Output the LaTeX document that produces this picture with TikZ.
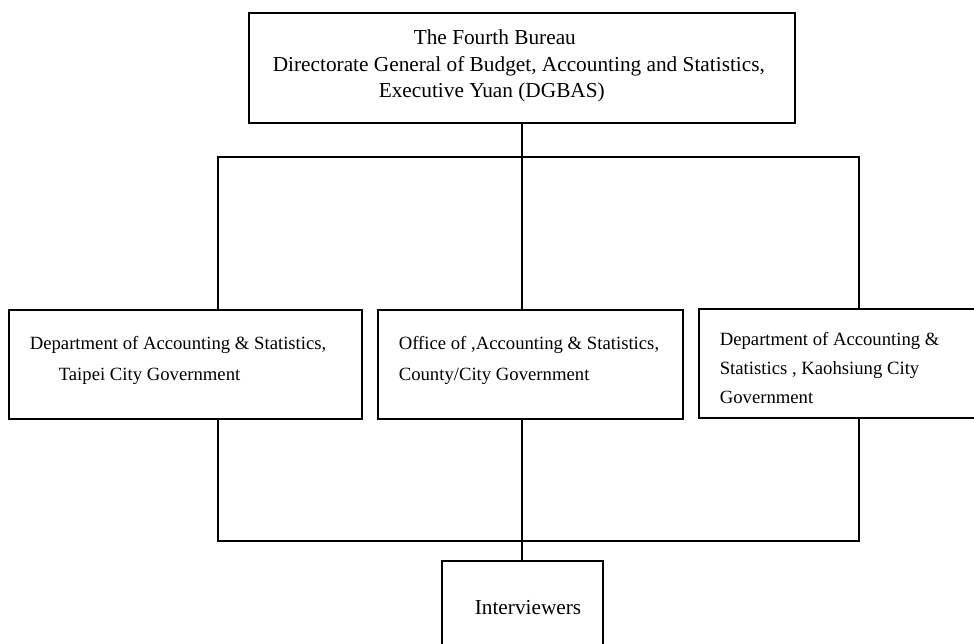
\documentclass[tikz,border=0pt]{standalone}
\usepackage{fontspec}
\setmainfont{Liberation Serif}
\begin{document}
\begin{tikzpicture}[x=1pt,y=-1pt,line width=1.6pt,
  box/.style={draw, rectangle, inner sep=0pt},
  bigtxt/.style={anchor=base west, inner sep=0pt, font=\fontsize{21.3}{24}\selectfont},
  smalltxt/.style={anchor=base west, inner sep=0pt, font=\fontsize{18.7}{22}\selectfont}]
\useasboundingbox (0,0) rectangle (974,644);
\clip (0,0) rectangle (974,644);
% boxes
\node[box, minimum width=546pt, minimum height=110pt] (top) at (522,68) {};
\node[box, minimum width=353pt, minimum height=109pt] (left) at (185.5,364.5) {};
\node[box, minimum width=305pt, minimum height=109pt] (mid) at (530.5,364.5) {};
\node[box, minimum width=291pt, minimum height=109pt] (right) at (844.5,363.5) {};
\node[box, minimum width=161pt, minimum height=99pt] (bottom) at (522.5,610.5) {};
% texts
\node[bigtxt] (t1) at (413,45) {The Fourth Bureau};
\node[bigtxt] (t2) at (272,72) {Directorate General of Budget, Accounting and Statistics,};
\node[bigtxt] (t3) at (378,98) {Executive Yuan (DGBAS)};
\node[smalltxt] (l1) at (29,349) {Department of Accounting \& Statistics,};
\node[smalltxt] (l2) at (58,380) {Taipei City Government};
\node[smalltxt] (m1) at (398,349) {Office of ,Accounting \& Statistics,};
\node[smalltxt] (m2) at (398,380) {County/City Government};
\node[smalltxt] (r1) at (719,345) {Department of Accounting \&};
\node[smalltxt] (r2) at (719,374) {Statistics , Kaohsiung City};
\node[smalltxt] (r3) at (719,403) {Government};
\node[bigtxt] (b1) at (474,614) {Interviewers};
% junctions
\coordinate (jt) at (522,157);
\coordinate (jl) at (218,157);
\coordinate (jr) at (859,157);
\coordinate (bl) at (218,541);
\coordinate (br) at (859,541);
\coordinate (bm) at (522,541);
% connectors
\draw (jl |- left.north) -- (jl) -- (jr) -- (jr |- right.north);
\draw (top.south -| jt) -- (jt) -- (jt |- mid.north);
\draw (bl |- left.south) -- (bl) -- (br) -- (br |- right.south);
\draw (bm |- mid.south) -- (bm) -- (bm |- bottom.north);
\end{tikzpicture}
\end{document}
